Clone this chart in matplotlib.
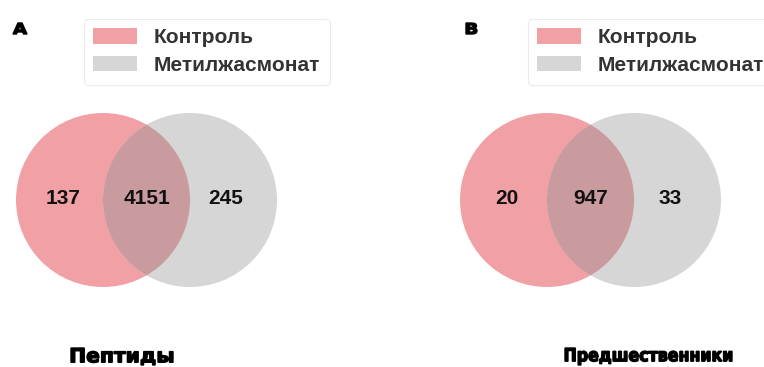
import matplotlib.pyplot as plt
from matplotlib.patches import Circle, Patch, PathPatch
from matplotlib.textpath import TextPath
from matplotlib.font_manager import FontProperties
from matplotlib.transforms import Affine2D

# counts: only control, shared, only methyl jasmonate
peptides = [137, 4151, 245]
precursors = [20, 947, 33]
titles = ["Пептиды", "Предшественники"]
panel_letters = ["A", "B"]
legend_labels = ["Контроль", "Метилжасмонат"]

PINK = "#f1a0a5"
GRAY = "#d6d6d6"
BOTH = "#c99a9e"

W, H = 764, 367
fig = plt.figure(figsize=(W / 100, H / 100), dpi=100)
ax = fig.add_axes([0, 0, 1, 1])
ax.set_xlim(0, W)
ax.set_ylim(H, 0)
ax.set_aspect("equal")
ax.axis("off")

heavy = FontProperties(family="DejaVu Sans", weight="bold")


def draw_word(s, x0, ybase, width, height, lw=0.8):
    # heavy text drawn as a path, squeezed into a given width and height
    tp = TextPath((0, 0), s, size=100, prop=heavy)
    ext = tp.get_extents()
    tr = (Affine2D().translate(-ext.x0, -ext.y0)
          .scale(width / ext.width, -height / ext.height).translate(x0, ybase))
    ax.add_patch(PathPatch(tr.transform_path(tp), facecolor="black",
                           edgecolor="black", lw=lw))


panels = [
    dict(counts=peptides, cx=(103, 190), letter=(13, 14), leg_x=84, title=(71, 102)),
    dict(counts=precursors, cx=(547, 634), letter=(466, 11), leg_x=528, title=(565, 167)),
]
cy, r = 200, 87

for i, p in enumerate(panels):
    c1, c2 = p["cx"]
    ax.add_patch(Circle((c1, cy), r, facecolor=PINK, edgecolor="none"))
    ax.add_patch(Circle((c2, cy), r, facecolor=GRAY, edgecolor="none"))
    lens = Circle((c1, cy), r, facecolor=BOTH, edgecolor="none")
    ax.add_patch(lens)
    lens.set_clip_path(Circle((c2, cy), r, transform=ax.transData))

    xs = [c1 - r * 0.46, (c1 + c2) / 2, c2 + r * 0.41]
    for x, v in zip(xs, p["counts"]):
        ax.text(x, cy - 2, str(v), ha="center", va="center", fontsize=15,
                fontweight="bold", family="Liberation Sans", color="#111111")

    lx, lw_ = p["letter"]
    draw_word(panel_letters[i], lx, 34, lw_, 11, lw=1.0)
    tx, tw = p["title"]
    # the full word box includes the descender of "д"
    draw_word(titles[i], tx, 365, tw, 17, lw=1.0)

    handles = [Patch(facecolor=PINK, edgecolor="none"),
               Patch(facecolor=GRAY, edgecolor="none")]
    leg = fig.legend(handles, legend_labels, loc="upper left",
                     bbox_to_anchor=(p["leg_x"] / W, 1 - 19 / H),
                     prop={"family": "Liberation Sans", "weight": "bold", "size": 15},
                     handlelength=2.1, handleheight=0.75, handletextpad=0.8,
                     labelspacing=0.42, borderpad=0.45, borderaxespad=0,
                     frameon=True, fancybox=True, edgecolor="#e6e6e6")
    leg.get_frame().set_linewidth(0.8)
    for t in leg.get_texts():
        t.set_color("#333333")

fig.savefig("out.png", dpi=100, facecolor="white")
